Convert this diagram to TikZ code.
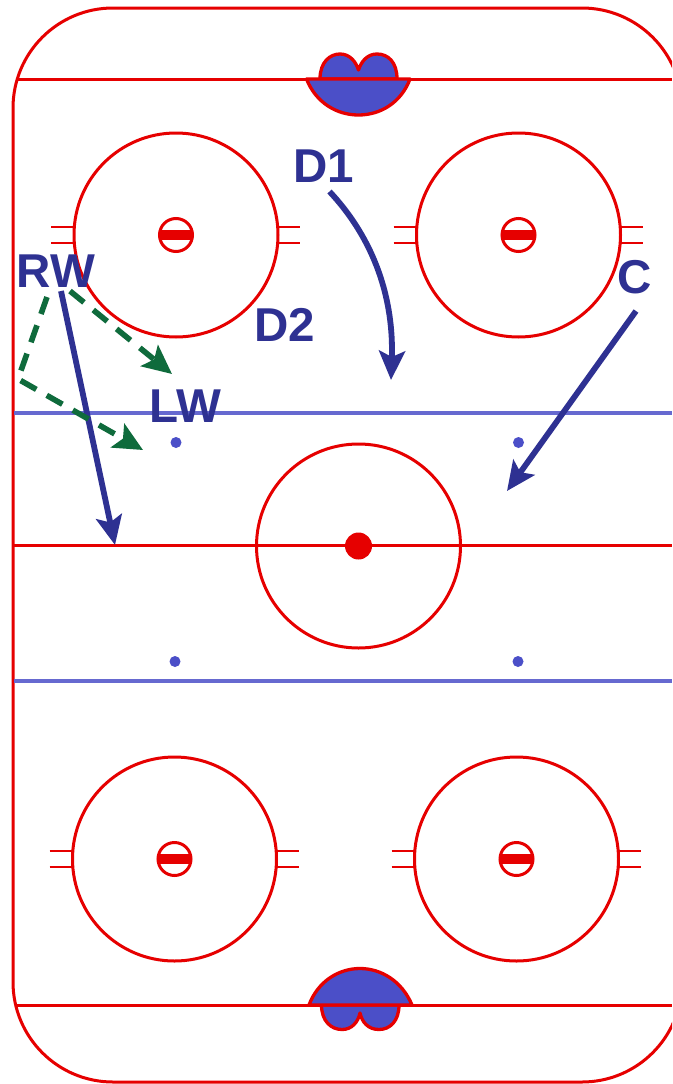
\documentclass[tikz,border=0pt]{standalone}
\usepackage{fontspec}
\setmainfont{Liberation Sans}
\usetikzlibrary{arrows.meta}
\definecolor{rinkred}{HTML}{E60000}
\definecolor{rinkblue}{HTML}{4B4FC8}
\definecolor{navy}{HTML}{2E3192}
\definecolor{play}{HTML}{0F6B3C}
\tikzset{
  redline/.style={draw=rinkred,line width=3pt},
  hline/.style={draw=rinkred,line width=2.2pt},
  blueline/.style={draw=rinkblue!85,line width=3.2pt},
  crease/.style={draw=rinkred,fill=rinkblue,line width=3.3pt,line join=round},
  player/.style={text=navy,font=\fontsize{47.5}{48}\selectfont\bfseries,inner sep=0pt},
  skate/.style={draw=navy,line width=5.8pt,-{Stealth[length=29pt,width=26pt,inset=6pt]}},
  pass/.style={draw=play,line width=5.6pt,dash pattern=on 18pt off 12pt,-{Stealth[length=29pt,width=27pt,inset=6pt]}},
  dot/.style={circle,fill=rinkblue,inner sep=0pt,minimum size=11pt},
}
\newcommand{\faceoff}[2]{%
  \draw[redline] (#1,#2) circle[radius=102];
  \draw[redline] (#1,#2) circle[radius=16.5];
  \fill[rinkred] (#1-17,#2-5) rectangle (#1+17,#2+5);
  \draw[hline] (#1-125,#2-8) -- (#1-102,#2-8) (#1-125,#2+8) -- (#1-102,#2+8);
  \draw[hline] (#1+102,#2-8) -- (#1+124,#2-8) (#1+102,#2+8) -- (#1+124,#2+8);
}
\begin{document}
\begin{tikzpicture}[x=1pt,y=-1pt]
\useasboundingbox (0,0) rectangle (672,1084);
\clip (0,0) rectangle (672,1084);
\fill[white] (0,0) rectangle (672,1084);
% rink
\draw[redline,rounded corners=100pt] (13,8) rectangle (682,1082);
\draw[redline] (17,79) -- (672,79);
\draw[redline] (17,1005) -- (672,1005);
\draw[redline] (13,545) -- (672,545);
\draw[blueline] (14,413) -- (672,413);
\draw[blueline] (14,681) -- (672,681);
% top crease
\draw[crease] (320,79) .. controls (320,62) and (330,54) .. (340,54) .. controls (350,54) and (356,62) .. (358.5,70)
  .. controls (361,62) and (367,54) .. (377,54) .. controls (388,54) and (397,62) .. (397,79) -- cycle;
\draw[crease] (306.5,79) .. controls (316,103) and (337,115) .. (358.5,115) .. controls (380,115) and (401,103) .. (410,79) -- cycle;
% bottom crease
\draw[crease] (321.5,1005) .. controls (321.5,1021) and (331,1029.5) .. (342,1029.5) .. controls (352,1029.5) and (358,1022) .. (360,1013)
  .. controls (362,1022) and (368,1029.5) .. (379,1029.5) .. controls (390,1029.5) and (399,1021) .. (399,1005) -- cycle;
\draw[crease] (309,1005) .. controls (318,981) and (339,968.5) .. (360,968.5) .. controls (381,968.5) and (402,981) .. (412,1005) -- cycle;
% circles
\faceoff{176}{235}
\faceoff{518.5}{235}
\faceoff{174.5}{859}
\faceoff{516.5}{859}
\draw[redline] (358.5,546) circle[radius=102];
\fill[rinkred] (358.5,546) circle[radius=13.5];
\node[dot] (d1) at (176,442.5) {};
\node[dot] (d2) at (518.5,442.5) {};
\node[dot] (d3) at (175,661.5) {};
\node[dot] (d4) at (518,661.5) {};
% players
\node[player] (RW) at (56,271.5) {RW};
\node[player] (LW) at (185.5,406) {LW};
\node[player] (D1) at (323.5,166) {D1};
\node[player] (D2) at (285,325) {D2};
\node[player] (C) at (635,277) {C};
% free ends
\coordinate (rwline) at (115,545);
\coordinate (d1end) at (391,380);
\coordinate (cend) at (507,491);
\coordinate (wall) at (18,379);
\coordinate (p1end) at (143,450);
\coordinate (p2end) at (172,374);
% connectors
\draw[skate] ([shift={(5,3)}]RW.south) -- (rwline);
\draw[skate] ([shift={(6,9)}]D1.south) .. controls (375,240) and (394,300) .. (d1end);
\draw[skate] ([shift={(1,17)}]C.south) -- (cend);
\draw[pass,line join=round] ([shift={(-9,9)}]RW.south) -- (wall) -- (p1end);
\draw[pass] ([shift={(14,3)}]RW.south) -- (p2end);
\end{tikzpicture}
\end{document}
